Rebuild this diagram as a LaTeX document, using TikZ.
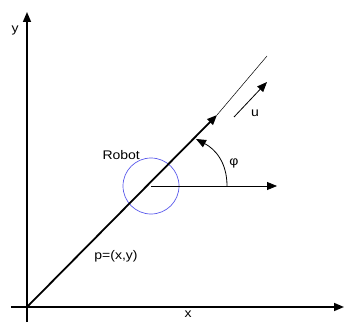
\documentclass[tikz,border=0pt]{standalone}
\usepackage{fontspec}
\setmainfont{Liberation Sans}[FakeStretch=1.12]
\usetikzlibrary{arrows.meta}
\definecolor{robotblue}{RGB}{90,90,235}

\begin{document}
\begin{tikzpicture}[x=1pt,y=1pt,font=\fontsize{12.5}{15}\selectfont,>={Triangle[length=10pt,width=8pt]},axis/.style={line width=1.6pt,->},heading/.style={line width=1.8pt,->},thinarrow/.style={line width=0.8pt,->},robot/.style={draw=robotblue,circle,minimum size=56pt,inner sep=0pt,line width=0.7pt}]
\useasboundingbox (-27,-15) rectangle (317,307);
\coordinate (o) at (0,0);
\coordinate (ybot) at (0,-15);
\coordinate (ytop) at (0,295);
\coordinate (xleft) at (-16,0);
\coordinate (xright) at (317,0);
\coordinate (tip) at (190,192);
\coordinate (far) at (240,251);
\coordinate (xdir) at (250,121);
\coordinate (arcstart) at (200,121);
\coordinate (arcend) at (169,168);
\coordinate (u1) at (207,190);
\coordinate (u2) at (240,225);
% axes
\draw[axis] (ybot)--(ytop);
\draw[axis] (xleft)--(xright);
\node (ylab) at (-12,277) {y};
\node[anchor=north,inner sep=0pt] (xlab) at (161,-4) {x};
% robot and heading
\node[robot] (robot) at (124,121) {};
\node[anchor=west] (robotlab) at (72,152) {Robot};
\draw[line width=0.5pt] (tip)--(far);
\draw[heading] (o)--(tip);
\draw[thinarrow] (robot.center)--(xdir);
\draw[thinarrow] (arcstart) .. controls (200,145) and (188,158) .. (arcend);
\draw[thinarrow] (u1)--(u2);
\node (ulab) at (228,194) {u};
\node (philab) at (207,144) {φ};
\node (plab) at (89,51) {p=(x,y)};
\end{tikzpicture}
\end{document}
